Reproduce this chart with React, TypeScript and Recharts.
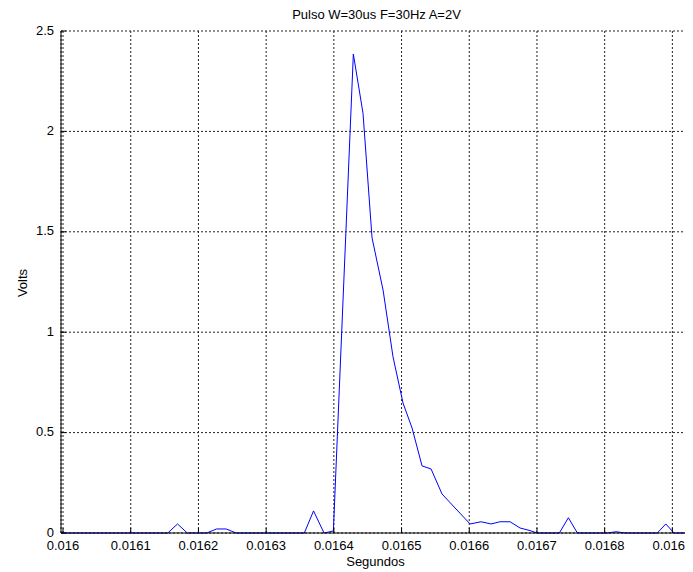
import { LineChart, Line, XAxis, YAxis, CartesianGrid } from 'recharts'

// vertices of the trace (seconds / volts)
const TIMES = [
  0.015997, 0.0161547, 0.0161691, 0.0161835, 0.0162123, 0.0162267, 0.0162411, 0.0162555,
  0.0163564, 0.01637, 0.0163855, 0.0163993, 0.0164288, 0.0164431, 0.0164564, 0.0164727,
  0.0164874, 0.0165022, 0.0165155, 0.0165303, 0.0165436, 0.0165598, 0.0166012, 0.0166174,
  0.0166322, 0.0166455, 0.0166603, 0.016675, 0.0166898, 0.0167001, 0.0167331, 0.0167464,
  0.0167597, 0.0168035, 0.0168168, 0.0168316, 0.0168778, 0.0168903, 0.0169025, 0.0169291,
]
const VOLTS = [
  0, 0, 0.045, 0, 0, 0.02, 0.02, 0,
  0, 0.11, 0, 0.01, 2.385, 2.09, 1.47, 1.21,
  0.877, 0.647, 0.523, 0.334, 0.319, 0.194, 0.045, 0.056,
  0.045, 0.056, 0.056, 0.025, 0.012, 0, 0, 0.076,
  0, 0, 0.006, 0, 0, 0.045, 0, 0,
]
const X_TICKS = [0.016, 0.0161, 0.0162, 0.0163, 0.0164, 0.0165, 0.0166, 0.0167, 0.0168, 0.0169]
const Y_TICKS = [0, 0.5, 1, 1.5, 2, 2.5]

const data = TIMES.map((t, i) => ({ t, v: VOLTS[i] }))

const FONT = '"Liberation Sans", Arial, sans-serif'
const W = 685
const H = 564

// matlab style: ticks point into the axes
const BottomTick = (props: any) => {
  const { x, y, payload } = props
  return (
    <g>
      <line x1={x} x2={x} y1={y} y2={y - 5} stroke="#000" />
      <text x={x} y={y + 17} textAnchor="middle" fontSize={13} fontFamily={FONT} fill="#000">
        {String(payload.value)}
      </text>
    </g>
  )
}

const TopTick = (props: any) => {
  const { x, y } = props
  return <line x1={x} x2={x} y1={y} y2={y + 5} stroke="#000" />
}

const LeftTick = (props: any) => {
  const { x, y, payload } = props
  return (
    <g>
      <line x1={x} x2={x + 5} y1={y} y2={y} stroke="#000" />
      <text x={x - 7} y={y + 3.5} textAnchor="end" fontSize={13} fontFamily={FONT} fill="#000">
        {String(payload.value)}
      </text>
    </g>
  )
}

export default function App() {
  return (
    <div style={{ position: 'relative', width: W, height: H }}>
      <LineChart width={W} height={H} data={data} margin={{ top: 23, right: 1, bottom: 0, left: 0 }}>
        <CartesianGrid stroke="#222" strokeDasharray="2 2" />
        <XAxis
          dataKey="t"
          type="number"
          domain={[0.015997, 0.016929]}
          allowDataOverflow
          ticks={X_TICKS}
          interval={0}
          height={39}
          tickSize={0}
          tickMargin={0}
          tick={<BottomTick />}
          axisLine={{ stroke: '#000' }}
        />
        <XAxis
          xAxisId="top"
          orientation="top"
          dataKey="t"
          type="number"
          domain={[0.015997, 0.016929]}
          allowDataOverflow
          ticks={X_TICKS}
          interval={0}
          height={0}
          tickSize={0}
          tickMargin={0}
          tick={<TopTick />}
          axisLine={{ stroke: '#000' }}
        />
        <YAxis
          type="number"
          domain={[0, 2.5]}
          ticks={Y_TICKS}
          interval={0}
          width={53}
          tickSize={0}
          tickMargin={0}
          tick={<LeftTick />}
          axisLine={{ stroke: '#000' }}
        />
        <Line
          type="linear"
          dataKey="v"
          stroke="#0000ff"
          strokeWidth={1}
          dot={false}
          isAnimationActive={false}
        />
      </LineChart>
      <svg
        width={W}
        height={H}
        style={{ position: 'absolute', left: 0, top: 0, pointerEvents: 'none' }}
      >
        <text x={368.5} y={11} textAnchor="middle" fontSize={13} fontFamily={FONT} fill="#000">
          Pulso W=30us F=30Hz A=2V
        </text>
        <text x={367.5} y={558} textAnchor="middle" fontSize={13} fontFamily={FONT} fill="#000">
          Segundos
        </text>
        <text
          x={18.5}
          y={275}
          textAnchor="middle"
          fontSize={13}
          fontFamily={FONT}
          fill="#000"
          transform="rotate(-90, 18.5, 275)"
        >
          Volts
        </text>
      </svg>
    </div>
  )
}
